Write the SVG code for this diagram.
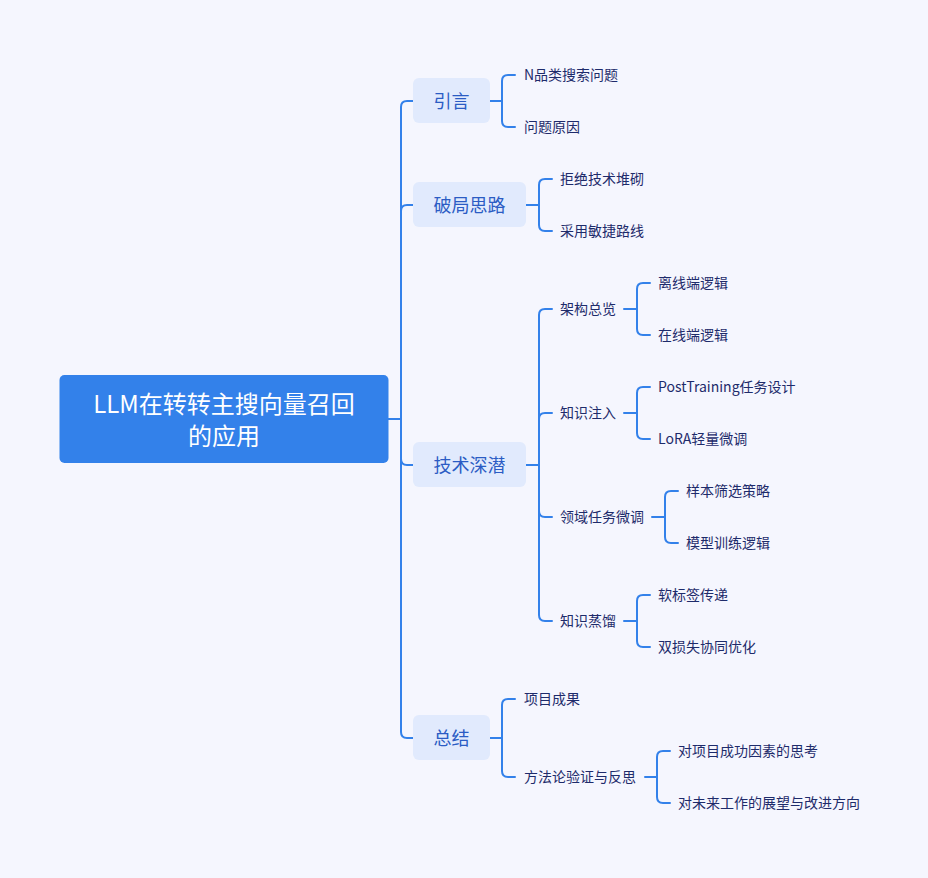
<svg xmlns="http://www.w3.org/2000/svg" width="928" height="878" viewBox="0 0 928 878">
<style>
.bg{fill:#f5f6fe}
.root{fill:#3381ea}
.rt{font-family:"Noto Sans CJK SC","Noto Sans",sans-serif;font-size:24px;fill:#ffffff;text-anchor:middle}
.l1{fill:#e1eafd}
.l1t{font-family:"Noto Sans CJK SC","Noto Sans",sans-serif;font-size:18px;fill:#2b5cc4;text-anchor:middle}
.lf{font-family:"Noto Sans CJK SC","Noto Sans",sans-serif;font-size:14px;fill:#1e2b6b}
.c{fill:none;stroke:#3381ea;stroke-width:2;stroke-linecap:round}
</style>
<rect class="bg" x="0" y="0" width="928" height="878"/>
<g id="connectors">
<path class="c" d="M388,419 H401 M401,419 V107 Q401,101 407,101 H413 M401,419 V211 Q401,205 407,205 H413 M401,419 V459 Q401,465 407,465 H413 M401,419 V732 Q401,738 407,738 H413"/>
<path class="c" d="M490,101 H502 M502,101 V81 Q502,75 508,75 H515 M502,101 V121 Q502,127 508,127 H515"/>
<path class="c" d="M526,205 H539 M539,205 V185 Q539,179 545,179 H552 M539,205 V225 Q539,231 545,231 H552"/>
<path class="c" d="M526,465 H539 M539,465 V315 Q539,309 545,309 H552 M539,465 V419 Q539,413 545,413 H552 M539,465 V511 Q539,517 545,517 H552 M539,465 V615 Q539,621 545,621 H552"/>
<path class="c" d="M624,309 H637 M637,309 V289 Q637,283 643,283 H650 M637,309 V329 Q637,335 643,335 H650"/>
<path class="c" d="M624,413 H637 M637,413 V393 Q637,387 643,387 H650 M637,413 V433 Q637,439 643,439 H650"/>
<path class="c" d="M652,517 H665 M665,517 V497 Q665,491 671,491 H678 M665,517 V537 Q665,543 671,543 H678"/>
<path class="c" d="M624,621 H637 M637,621 V601 Q637,595 643,595 H650 M637,621 V641 Q637,647 643,647 H650"/>
<path class="c" d="M490,738 H502 M502,738 V705 Q502,699 508,699 H515 M502,738 V771 Q502,777 508,777 H515"/>
<path class="c" d="M645,777 H657 M657,777 V757 Q657,751 663,751 H670 M657,777 V797 Q657,803 663,803 H670"/>
</g>
<g id="root">
<rect class="root" x="59.5" y="375" width="329" height="88" rx="5"/>
<text class="rt" x="224" y="413">LLM在转转主搜向量召回</text>
<text class="rt" x="224" y="445">的应用</text>
</g>
<g id="n-yinyan">
<rect class="l1" x="413" y="78" width="77" height="45" rx="6"/>
<text class="l1t" x="451.5" y="107.5">引言</text>
</g>
<g id="n-poju">
<rect class="l1" x="413" y="182" width="113" height="45" rx="6"/>
<text class="l1t" x="469.5" y="211.5">破局思路</text>
</g>
<g id="n-jishu">
<rect class="l1" x="413" y="442" width="113" height="45" rx="6"/>
<text class="l1t" x="469.5" y="471.5">技术深潜</text>
</g>
<g id="n-zongjie">
<rect class="l1" x="413" y="715" width="77" height="45" rx="6"/>
<text class="l1t" x="451.5" y="744.5">总结</text>
</g>
<g id="leaf-1"><text class="lf" x="524" y="80">N品类搜索问题</text></g>
<g id="leaf-2"><text class="lf" x="524" y="132">问题原因</text></g>
<g id="leaf-3"><text class="lf" x="560" y="184">拒绝技术堆砌</text></g>
<g id="leaf-4"><text class="lf" x="560" y="236">采用敏捷路线</text></g>
<g id="n-jiagou"><text class="lf" x="560" y="314">架构总览</text></g>
<g id="leaf-5"><text class="lf" x="658" y="288">离线端逻辑</text></g>
<g id="leaf-6"><text class="lf" x="658" y="340">在线端逻辑</text></g>
<g id="n-zhishi"><text class="lf" x="560" y="418">知识注入</text></g>
<g id="leaf-7"><text class="lf" x="658" y="392">PostTraining任务设计</text></g>
<g id="leaf-8"><text class="lf" x="658" y="444">LoRA轻量微调</text></g>
<g id="n-lingyu"><text class="lf" x="560" y="522">领域任务微调</text></g>
<g id="leaf-9"><text class="lf" x="686" y="496">样本筛选策略</text></g>
<g id="leaf-10"><text class="lf" x="686" y="548">模型训练逻辑</text></g>
<g id="n-zhengliu"><text class="lf" x="560" y="626">知识蒸馏</text></g>
<g id="leaf-11"><text class="lf" x="658" y="600">软标签传递</text></g>
<g id="leaf-12"><text class="lf" x="658" y="652">双损失协同优化</text></g>
<g id="leaf-13"><text class="lf" x="524" y="704">项目成果</text></g>
<g id="n-fangfa"><text class="lf" x="524" y="782">方法论验证与反思</text></g>
<g id="leaf-14"><text class="lf" x="678" y="756">对项目成功因素的思考</text></g>
<g id="leaf-15"><text class="lf" x="678" y="808">对未来工作的展望与改进方向</text></g>
</svg>
